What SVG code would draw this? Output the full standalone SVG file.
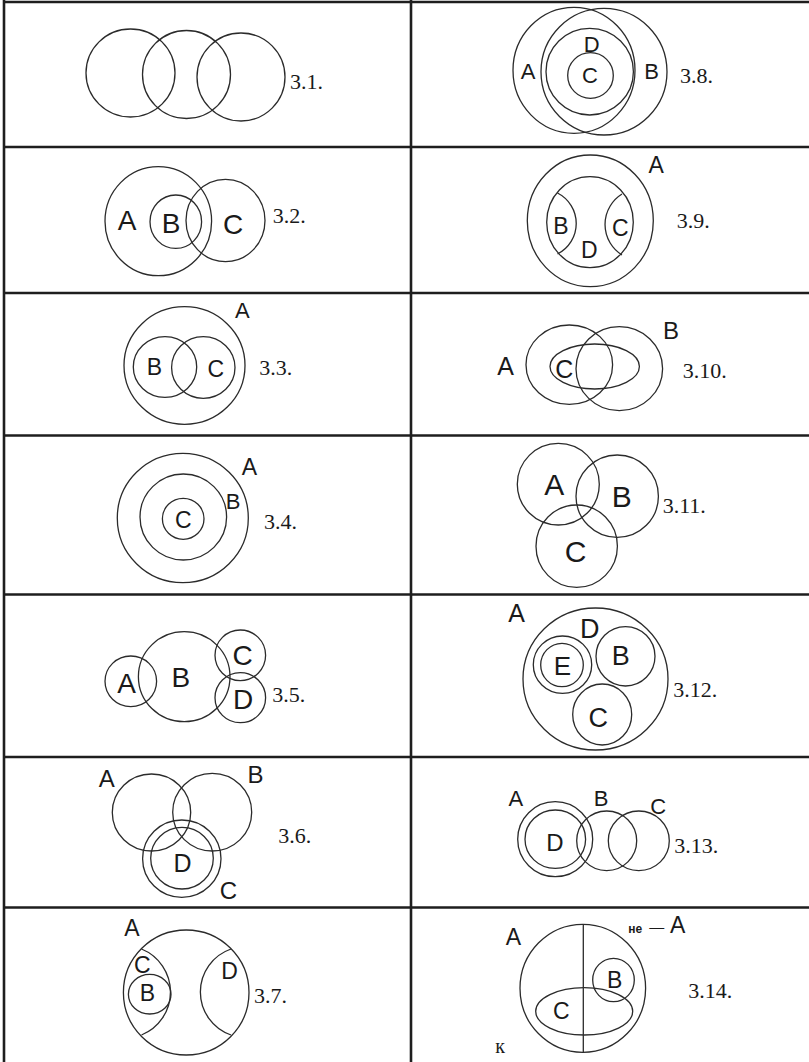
<svg xmlns="http://www.w3.org/2000/svg" width="809" height="1062" viewBox="0 0 809 1062">
<style>
.s{fill:none;stroke:#2b2b2b;stroke-width:1.3}
.g{fill:none;stroke:#1e1e1e;stroke-width:2.6}
.l{font-family:"Liberation Sans",Arial,sans-serif;fill:#1a1a1a;text-anchor:middle}
.n{font-family:"Liberation Serif","Times New Roman",serif;font-size:22px;fill:#1a1a1a}
</style>
<rect width="809" height="1062" fill="#fff"/>
<g id="grid" class="g">
<line x1="3" y1="2" x2="809" y2="2"/>
<line x1="3" y1="147" x2="809" y2="147"/>
<line x1="3" y1="293" x2="809" y2="293"/>
<line x1="3" y1="435.5" x2="809" y2="435.5"/>
<line x1="3" y1="594.5" x2="809" y2="594.5"/>
<line x1="3" y1="757" x2="809" y2="757"/>
<line x1="3" y1="907.5" x2="809" y2="907.5"/>
<line x1="4" y1="0" x2="4" y2="1062"/>
<line x1="411" y1="0" x2="411" y2="1062"/>
</g>
<g id="connectors"></g>
<g id="d31">
<ellipse class="s" cx="130.5" cy="73" rx="44.5" ry="44"/>
<ellipse class="s" cx="186.5" cy="74.5" rx="44" ry="44"/>
<ellipse class="s" cx="241" cy="77" rx="44" ry="44"/>
<text class="n" x="290" y="89">3.1.</text>
</g>
<g id="d32">
<ellipse class="s" cx="158.3" cy="221.2" rx="53.3" ry="54.5"/>
<ellipse class="s" cx="175.8" cy="221.7" rx="25.8" ry="26.7"/>
<ellipse class="s" cx="225.5" cy="220.5" rx="39.5" ry="41.2"/>
<text class="l" x="127" y="230" font-size="28">A</text>
<text class="l" x="171" y="233" font-size="28">B</text>
<text class="l" x="233" y="234" font-size="28">C</text>
<text class="n" x="272.7" y="223.3">3.2.</text>
</g>
<g id="d33">
<ellipse class="s" cx="184.5" cy="365.5" rx="60.5" ry="58.8"/>
<ellipse class="s" cx="165" cy="367" rx="31.7" ry="30.3"/>
<ellipse class="s" cx="203.3" cy="367.5" rx="31.7" ry="30.8"/>
<text class="l" x="242.3" y="317.7" font-size="22">A</text>
<text class="l" x="154.5" y="375" font-size="23">B</text>
<text class="l" x="215.8" y="377.3" font-size="23">C</text>
<text class="n" x="259.3" y="375">3.3.</text>
</g>
<g id="d34">
<ellipse class="s" cx="182.8" cy="518" rx="65.5" ry="64.7"/>
<ellipse class="s" cx="183.3" cy="517" rx="43.3" ry="43"/>
<ellipse class="s" cx="183.2" cy="518.8" rx="20.8" ry="20.5"/>
<text class="l" x="249.5" y="475" font-size="23">A</text>
<text class="l" x="233" y="509" font-size="22">B</text>
<text class="l" x="183.3" y="528.3" font-size="23">C</text>
<text class="n" x="264" y="529.3">3.4.</text>
</g>
<g id="d35">
<ellipse class="s" cx="130.8" cy="681.3" rx="25.8" ry="25.3"/>
<ellipse class="s" cx="184.2" cy="676.7" rx="45.8" ry="45"/>
<ellipse class="s" cx="240.3" cy="655.3" rx="25.3" ry="25.3"/>
<ellipse class="s" cx="240.3" cy="697.7" rx="25.3" ry="25"/>
<text class="l" x="126.7" y="693.3" font-size="28">A</text>
<text class="l" x="180.8" y="686.7" font-size="28">B</text>
<text class="l" x="242.5" y="665" font-size="28">C</text>
<text class="l" x="243" y="709.3" font-size="28">D</text>
<text class="n" x="272.3" y="701.7">3.5.</text>
</g>
<g id="d36">
<ellipse class="s" cx="151.5" cy="812.5" rx="39.2" ry="38.5"/>
<ellipse class="s" cx="212.2" cy="812.2" rx="39.5" ry="38.8"/>
<ellipse class="s" cx="181.8" cy="858.7" rx="39.2" ry="38.7"/>
<ellipse class="s" cx="182" cy="858.2" rx="31.3" ry="30.8"/>
<text class="l" x="106.7" y="786.7" font-size="24">A</text>
<text class="l" x="255.5" y="783.3" font-size="24">B</text>
<text class="l" x="182.5" y="872.3" font-size="25">D</text>
<text class="l" x="228.3" y="899.3" font-size="24">C</text>
<text class="n" x="278.3" y="843.3">3.6.</text>
</g>
<g id="d37">
<ellipse class="s" cx="186.2" cy="992.5" rx="62.8" ry="62.5"/>
<path class="s" d="M141.5,949 A46.4,46.4 0 0 1 141.5,1035"/>
<path class="s" d="M231,949 A45.5,45.5 0 0 0 231,1035"/>
<ellipse class="s" cx="149.7" cy="994.2" rx="21.3" ry="19.8"/>
<text class="l" x="132" y="936" font-size="23">A</text>
<text class="l" x="142.3" y="973.3" font-size="23">C</text>
<text class="l" x="147.5" y="1001" font-size="23">B</text>
<text class="l" x="229.5" y="979.3" font-size="23">D</text>
<text class="n" x="254" y="1002.7">3.7.</text>
</g>
<g id="d38">
<ellipse class="s" cx="574" cy="70.3" rx="61" ry="63"/>
<ellipse class="s" cx="604" cy="71.7" rx="63" ry="63.3"/>
<ellipse class="s" cx="589.7" cy="71.7" rx="43.7" ry="43.3"/>
<ellipse class="s" cx="590.5" cy="75.5" rx="22.8" ry="22.8"/>
<text class="l" x="528" y="79" font-size="22">A</text>
<text class="l" x="591.7" y="51.7" font-size="22">D</text>
<text class="l" x="590" y="83.3" font-size="22">C</text>
<text class="l" x="651.7" y="79" font-size="22">B</text>
<text class="n" x="680" y="83.3">3.8.</text>
</g>
<g id="d39">
<ellipse class="s" cx="590.3" cy="220.8" rx="63" ry="65.8"/>
<ellipse class="s" cx="590" cy="222.2" rx="43.3" ry="45.5"/>
<path class="s" d="M557.5,193 A34.2,34.2 0 0 1 557.5,254"/>
<path class="s" d="M622,194 A35.9,35.9 0 0 0 622,255"/>
<text class="l" x="656.2" y="173.3" font-size="23">A</text>
<text class="l" x="560.8" y="234.3" font-size="23">B</text>
<text class="l" x="620.2" y="235.7" font-size="23">C</text>
<text class="l" x="589.2" y="258.3" font-size="23">D</text>
<text class="n" x="676.7" y="228.3">3.9.</text>
</g>
<g id="d310">
<ellipse class="s" cx="569.3" cy="364.7" rx="43.3" ry="39.7"/>
<ellipse class="s" cx="619.3" cy="368.7" rx="43.3" ry="42"/>
<ellipse class="s" cx="594.7" cy="366.5" rx="44.7" ry="22.5"/>
<text class="l" x="505.5" y="375" font-size="25">A</text>
<text class="l" x="671" y="339" font-size="24">B</text>
<text class="l" x="564.2" y="378.3" font-size="25">C</text>
<text class="n" x="682.7" y="378.3">3.10.</text>
</g>
<g id="d311">
<ellipse class="s" cx="558.3" cy="484.2" rx="41" ry="40.8"/>
<ellipse class="s" cx="617.2" cy="496.2" rx="41.2" ry="41.2"/>
<ellipse class="s" cx="576.7" cy="546.2" rx="40.7" ry="41.2"/>
<text class="l" x="554.2" y="495" font-size="30">A</text>
<text class="l" x="621.7" y="506.7" font-size="30">B</text>
<text class="l" x="575.5" y="561.7" font-size="30">C</text>
<text class="n" x="662.7" y="513.3">3.11.</text>
</g>
<g id="d312">
<ellipse class="s" cx="595.5" cy="679" rx="72.5" ry="71"/>
<ellipse class="s" cx="562.5" cy="664.7" rx="29.2" ry="28.7"/>
<ellipse class="s" cx="562" cy="665" rx="21.3" ry="21.7"/>
<ellipse class="s" cx="625.5" cy="656.3" rx="29.5" ry="29.7"/>
<ellipse class="s" cx="602.2" cy="714.5" rx="29.5" ry="30.5"/>
<text class="l" x="516.7" y="621.7" font-size="25">A</text>
<text class="l" x="589.7" y="638.3" font-size="27">D</text>
<text class="l" x="562.5" y="675" font-size="26">E</text>
<text class="l" x="620.8" y="665" font-size="27">B</text>
<text class="l" x="598.3" y="726.7" font-size="27">C</text>
<text class="n" x="673.3" y="696.7">3.12.</text>
</g>
<g id="d313">
<ellipse class="s" cx="555.2" cy="839.2" rx="37.5" ry="37.5"/>
<ellipse class="s" cx="555.3" cy="839.2" rx="30.3" ry="29.2"/>
<ellipse class="s" cx="606.7" cy="840.8" rx="30" ry="29.8"/>
<ellipse class="s" cx="638.8" cy="840.8" rx="30.5" ry="29.8"/>
<text class="l" x="515.8" y="806" font-size="22">A</text>
<text class="l" x="601.2" y="805.7" font-size="22">B</text>
<text class="l" x="658.3" y="814" font-size="22">C</text>
<text class="l" x="555" y="850.7" font-size="24">D</text>
<text class="n" x="674.3" y="853.3">3.13.</text>
</g>
<g id="d314">
<ellipse class="s" cx="582.8" cy="988.3" rx="62.8" ry="64"/>
<line class="s" x1="583.3" y1="924.3" x2="583.3" y2="1052.3"/>
<ellipse class="s" cx="613.5" cy="980" rx="20.8" ry="21.7"/>
<ellipse class="s" cx="584.2" cy="1011.3" rx="48.5" ry="23.7"/>
<text class="l" x="513.3" y="945" font-size="23">A</text>
<text class="l" x="561.3" y="1019.3" font-size="23">C</text>
<text class="l" x="614.7" y="988.3" font-size="23">B</text>
<text font-family="Liberation Sans, Arial, sans-serif" fill="#1a1a1a"><tspan x="628.3" y="933.3" font-size="12" font-weight="bold">не</tspan><tspan x="649.3" y="932" font-size="15">—</tspan><tspan x="670" y="933.3" font-size="23">A</tspan></text>
<text class="n" x="500" y="1052.7" text-anchor="middle" style="font-size:20px">к</text>
<text class="n" x="688.3" y="998.3">3.14.</text>
</g>
</svg>
